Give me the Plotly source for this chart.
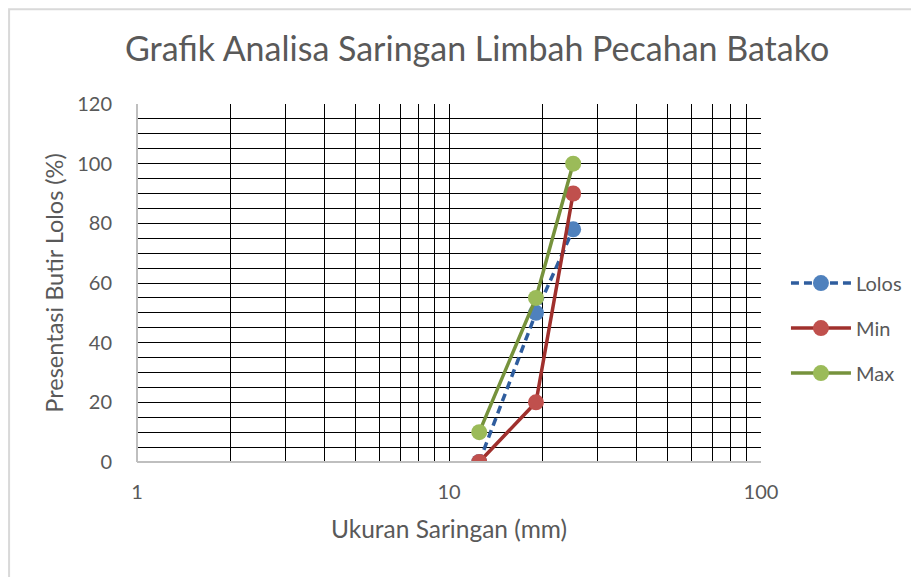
"""Grafik analisa saringan limbah pecahan batako (log-x sieve chart)."""

import plotly.graph_objects as go

# sieve sizes (mm) and passing percentages
ukuran = [12.5, 19, 25]
lolos = [0, 50, 78]
batas_min = [0, 20, 90]
batas_max = [10, 55, 100]

x_ticks = [1, 10, 100]
x_minor = [2, 3, 4, 5, 6, 7, 8, 9, 20, 30, 40, 50, 60, 70, 80, 90]
y_ticks = [0, 20, 40, 60, 80, 100, 120]

FONT = "Lato"
GREY = "#595959"

series = [
    ("Lolos", lolos, "#2F5D9E", "#4F81BD", "8px,5px"),
    ("Min", batas_min, "#A0302D", "#C0504D", "solid"),
    ("Max", batas_max, "#76923C", "#9BBB59", "solid"),
]

fig = go.Figure()
for name, vals, line_col, mark_col, dash in series:
    fig.add_trace(
        go.Scatter(
            x=ukuran,
            y=vals,
            mode="lines+markers",
            name=name,
            legendgroup=name,
            line=dict(color=line_col, width=3.5, dash=dash),
            marker=dict(color=mark_col, size=16),
        )
    )

# the page body adds an 8px offset, so the figure is 8px smaller than the window
fig.update_layout(
    width=911,
    height=569,
    paper_bgcolor="white",
    plot_bgcolor="white",
    margin=dict(l=129, r=158, t=96, b=115),
    font=dict(family=FONT, color=GREY, size=20),
    title=dict(
        text="Grafik Analisa Saringan Limbah Pecahan Batako",
        x=0.515,
        xanchor="center",
        y=0.927,
        yanchor="middle",
        font=dict(size=34, color=GREY),
    ),
    legend=dict(
        x=1.04,
        y=0.374,
        xanchor="left",
        yanchor="middle",
        font=dict(size=20, color=GREY),
        itemwidth=60,
        tracegroupgap=16,
        bgcolor="rgba(0,0,0,0)",
    ),
    xaxis=dict(
        type="log",
        range=[0, 2],
        tickvals=x_ticks,
        ticktext=[str(v) for v in x_ticks],
        showgrid=True,
        gridcolor="black",
        gridwidth=1,
        minor=dict(tickvals=x_minor, showgrid=True, gridcolor="black", gridwidth=1, ticks=""),
        showline=False,
        zeroline=False,
        ticks="",
        ticklabelstandoff=16,
        title=dict(text="Ukuran Saringan (mm)", font=dict(size=24.5, color=GREY), standoff=18),
    ),
    yaxis=dict(
        range=[0, 120],
        tickvals=y_ticks,
        showgrid=True,
        gridcolor="black",
        gridwidth=1,
        minor=dict(dtick=5, showgrid=True, gridcolor="black", gridwidth=1, ticks=""),
        zeroline=False,
        showline=False,
        ticks="",
        ticklabelstandoff=24,
        title=dict(text="Presentasi Butir Lolos (%)", font=dict(size=23.5, color=GREY), standoff=6),
    ),
    shapes=[
        # grey axis lines at x=1 and y=0
        dict(type="line", xref="paper", yref="paper", x0=0, x1=1, y0=0, y1=0,
             line=dict(color="#BFBFBF", width=2)),
        dict(type="line", xref="paper", yref="paper", x0=0, x1=0, y0=0, y1=1,
             line=dict(color="#BFBFBF", width=2)),
        # chart frame (runs past the right and bottom edges)
        dict(type="rect", xref="paper", yref="paper", x0=-0.205, x1=1.3, y0=-0.4, y1=1.265,
             line=dict(color="#D9D9D9", width=2)),
    ],
)

fig.write_html("out.html")
